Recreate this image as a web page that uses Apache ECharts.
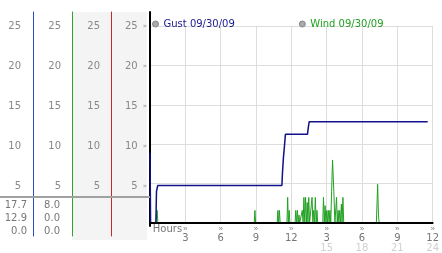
<!DOCTYPE html>
<html><head><meta charset="utf-8">
<script src="https://cdn.jsdelivr.net/npm/echarts@6/dist/echarts.min.js"></script>
<style>html,body{margin:0;padding:0;background:#fff}#c{width:442px;height:253px}</style>
</head><body><div id="c"></div>
<script>
const seriesNames = ['Gust 09/30/09', 'Wind 09/30/09'];
const gustHours  = [0, 0.05, 0.5, 0.55, 0.65, 11.2, 11.25, 11.33, 11.42, 11.5, 13.37, 13.45, 13.52, 23.58];
const gustValues = [8.9, 0, 0, 4.0, 4.75, 4.75, 6.4, 8.3, 9.8, 11.25, 11.25, 12.2, 12.85, 12.85];
const windHours = [0.5, 0.55, 0.61, 0.67,
  8.85, 8.91, 8.97,
  10.80, 10.86, 10.92, 10.99, 11.05,
  11.63, 11.69, 11.75, 11.82, 11.88,
  12.32, 12.38, 12.45, 12.52, 12.58, 12.65, 12.71,
  12.87, 12.93, 13.00, 13.07, 13.14, 13.21, 13.28, 13.35, 13.41, 13.48, 13.55,
  13.70, 13.76, 13.83, 13.90, 13.97, 14.04, 14.11, 14.18, 14.24,
  14.67, 14.73, 14.80, 14.87, 14.94, 15.01, 15.07, 15.14, 15.21, 15.28, 15.35, 15.42, 15.50, 15.61, 15.70,
  15.84, 15.90, 15.97, 16.04, 16.11, 16.18, 16.25, 16.31, 16.38, 16.45,
  19.22, 19.29, 19.33, 19.40, 19.46, 24];
const windValues = [0, 0, 1.6, 0,
  0, 1.6, 0,
  0, 1.6, 0, 1.6, 0,
  0, 3.25, 0, 1.6, 0,
  0, 1.6, 0, 1.6, 0, 1.0, 0,
  0, 1.6, 0, 3.25, 0, 3.25, 0, 2.6, 0, 3.25, 0,
  0, 3.25, 0, 1.6, 0, 3.25, 0, 1.6, 0,
  0, 3.25, 0, 2.2, 0, 1.6, 0, 1.6, 0, 1.6, 0, 4.0, 8.0, 4.0, 0,
  3.25, 0, 1.6, 0, 1.6, 0, 2.4, 0, 3.25, 0,
  0, 3.0, 4.9, 1.0, 0, 0];
const yTickValues = [5, 10, 15, 20, 25];
const xTick12 = ['Hours', '3', '6', '9', '12', '3', '6', '9', '12'];
const xTick24 = ['', '', '', '', '', '15', '18', '21', '24'];
const gustStats = ['17.7', '12.9', '0.0'];
const windStats = ['8.0', '0.0', '0.0'];

const FONT = 'DejaVu Sans';
const pair = (xs, ys) => xs.map((x, i) => [x, ys[i]]);

// left panel columns: [left, width, lineColor, margin]
const cols = [
  [0, 33, '#2a4cc8', 12],
  [33, 39, '#2ea52e', 11],
  [72, 39, '#c02a2a', 11],
  [111, 39, '#000000', 3]
];
const grids = [], xAxes = [], yAxes = [];
cols.forEach((c, i) => {
  const isMain = i === 3;
  grids.push({left: c[0], width: c[1], top: 12, bottom: isMain ? 27 : 17});
  xAxes.push({gridIndex: i, type: 'value', show: false, min: 0, max: 1});
  yAxes.push({
    gridIndex: i, type: 'value', position: 'right',
    min: isMain ? 0 : -1.25, max: 26.75,
    axisLine: {show: true, onZero: false, lineStyle: {color: c[2], width: isMain ? 2 : 1}},
    axisTick: {show: false}, splitLine: {show: false},
    axisLabel: {
      inside: true, margin: c[3], customValues: yTickValues,
      color: '#888', fontFamily: FONT, fontSize: 10,
      formatter: isMain ? (v => '{n|' + v + '}{m|»}') : (v => String(v)),
      rich: {n: {color: '#888', fontFamily: FONT, fontSize: 10}, m: {color: '#999', fontSize: 7, padding: [0, 0, 0, 5]}}
    }
  });
});
// main plot grid
grids.push({left: 150, right: 3, top: 26, bottom: 27});
xAxes.push({
  gridIndex: 4, type: 'value', min: 0, max: 24, interval: 3,
  axisLine: {show: false}, axisTick: {show: false},
  splitLine: {show: true, lineStyle: {color: '#dddddd', width: 1}},
  axisLabel: {
    margin: 1, showMinLabel: true, showMaxLabel: true,
    formatter: v => {
      const i = Math.round(v / 3);
      if (i === 0) return '{h|' + xTick12[0] + '}';
      let s = '{m|»}\n{n|' + xTick12[i] + '}';
      if (xTick24[i]) s += '\n{f|' + xTick24[i] + '}';
      return s;
    },
    rich: {
      h: {color: '#777', fontFamily: FONT, fontSize: 10, lineHeight: 11, padding: [0, 0, 0, 35]},
      m: {color: '#888', fontSize: 8, lineHeight: 9},
      n: {color: '#777', fontFamily: FONT, fontSize: 10, lineHeight: 11},
      f: {color: '#d0d0d0', fontFamily: FONT, fontSize: 10, lineHeight: 8}
    }
  }
});
xAxes.push({
  gridIndex: 4, type: 'value', min: 0, max: 24, position: 'bottom', z: 10,
  axisLine: {show: true, onZero: false, lineStyle: {color: '#000', width: 2}},
  axisTick: {show: false}, axisLabel: {show: false}, splitLine: {show: false}
});
yAxes.push({
  gridIndex: 4, type: 'value', min: 0, max: 25, interval: 5,
  axisLine: {show: false}, axisTick: {show: false}, axisLabel: {show: false},
  splitLine: {show: true, lineStyle: {color: '#dddddd', width: 1}}
});

const statTexts = [];
[[gustStats, 27], [windStats, 60]].forEach(([arr, xr]) => {
  arr.forEach((t, r) => {
    statTexts.push({type: 'text', z: 100, style: {text: t, x: xr, y: 205 + r * 13, align: 'right', verticalAlign: 'middle', fill: '#777', font: '10px "' + FONT + '"'}});
  });
});

const option = {
  animation: false,
  backgroundColor: '#fff',
  grid: grids, xAxis: xAxes, yAxis: yAxes,
  legend: {
    left: 147, top: 14, itemWidth: 6, itemHeight: 6, itemGap: 64, icon: 'circle',
    selectedMode: false,
    textStyle: {fontFamily: FONT, fontSize: 10},
    data: [
      {name: seriesNames[0], itemStyle: {color: '#aaa', borderColor: '#888', borderWidth: 1}, textStyle: {color: '#1a1a90'}},
      {name: seriesNames[1], itemStyle: {color: '#aaa', borderColor: '#888', borderWidth: 1}, textStyle: {color: '#22a022'}}
    ]
  },
  graphic: {elements: [
    {type: 'rect', z: -10, shape: {x: 72, y: 12, width: 75, height: 228}, style: {fill: '#f4f4f4'}},
    {type: 'rect', z: 50, shape: {x: 0, y: 196, width: 150, height: 2}, style: {fill: '#a0a0a0'}}
  ].concat(statTexts)},
  series: [
    {name: seriesNames[0], type: 'line', xAxisIndex: 4, yAxisIndex: 4, data: pair(gustHours, gustValues),
     showSymbol: false, symbol: 'none', lineStyle: {color: '#10108a', width: 1.5}, itemStyle: {color: '#10108a'}, z: 3},
    {name: seriesNames[1], type: 'line', xAxisIndex: 4, yAxisIndex: 4, data: pair(windHours, windValues),
     showSymbol: false, symbol: 'none', lineStyle: {color: '#22a022', width: 1}, itemStyle: {color: '#22a022'}, z: 2}
  ]
};
const chart = echarts.init(document.getElementById('c'), null, {renderer: 'canvas'});
chart.setOption(option);
</script></body></html>
